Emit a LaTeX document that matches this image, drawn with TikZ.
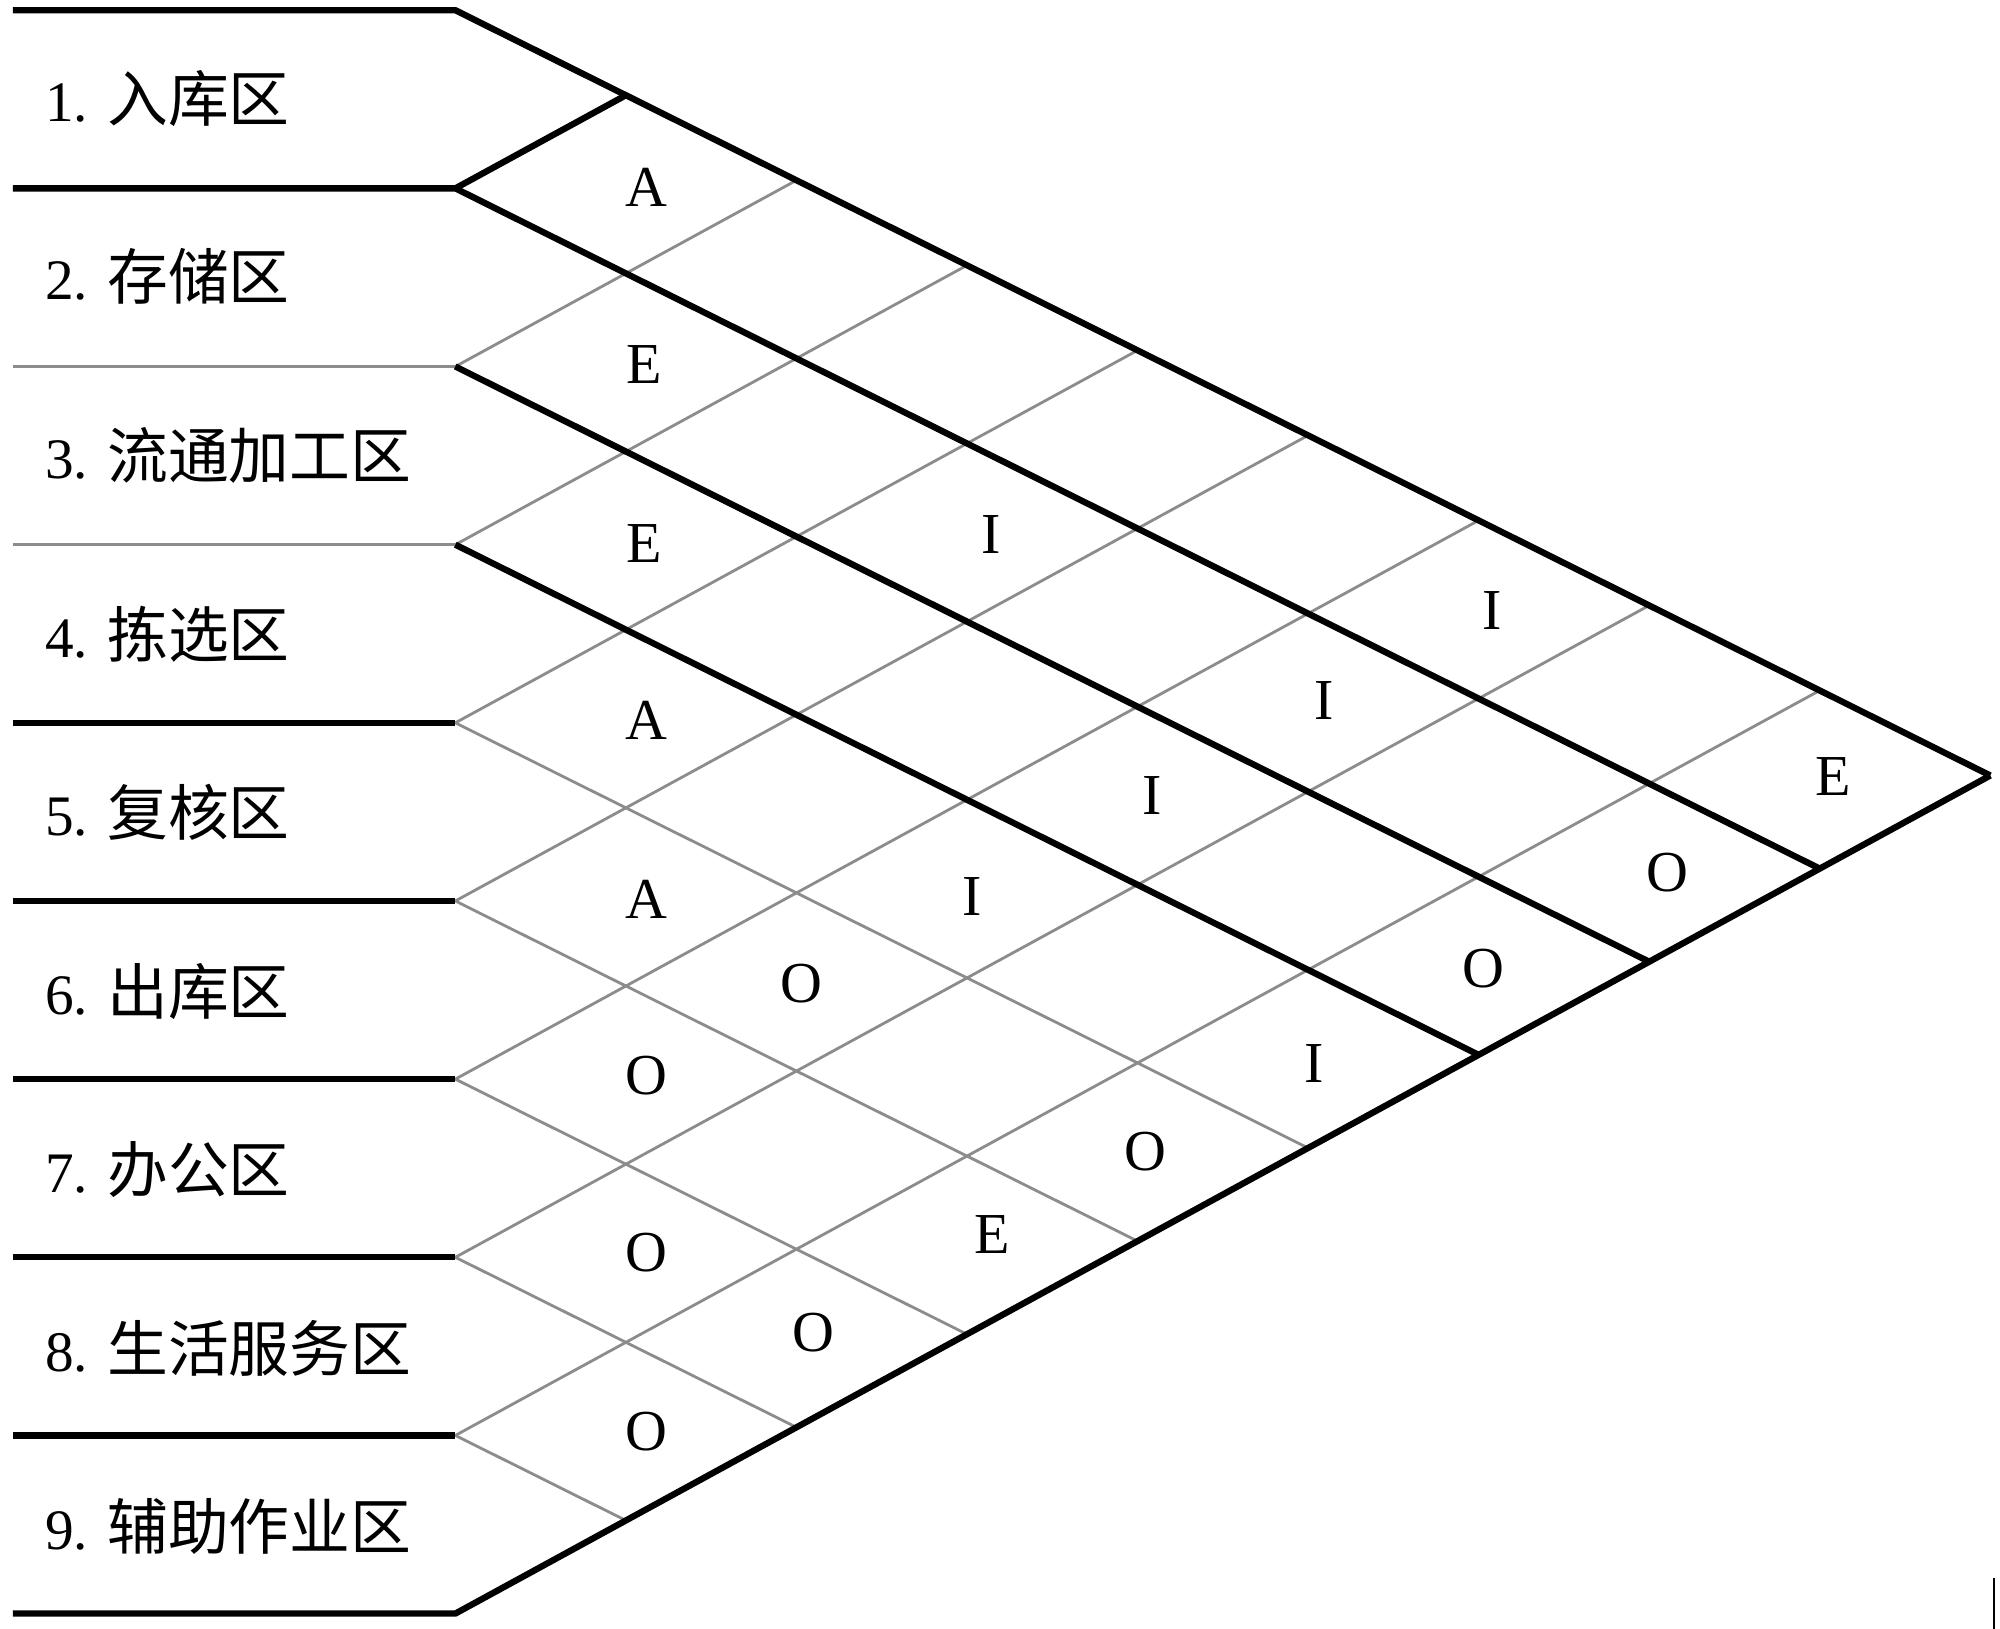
\documentclass[tikz,border=0pt]{standalone}
\usepackage{fontspec}
\setmainfont{Liberation Serif}
\newfontfamily\cjk{Noto Sans CJK SC}
\begin{document}
\begin{tikzpicture}[x=0.012755cm,y=-0.012755cm,
  heavy/.style={line width=1.8pt,black,line join=round},
  light/.style={line width=0.8pt,black!45},
  rowlab/.style={anchor=west,inner sep=0pt,font=\fontsize{16.3}{18}\selectfont},
  rel/.style={inner sep=0pt,font=\fontsize{16.5}{18}\selectfont}]
\useasboundingbox (0,0) rectangle (1568,1277);
% row boundary points
\foreach \k in {0,...,9} {
  \coordinate (L\k) at (10,{8+139.67*\k});
  \coordinate (P\k) at (357,{8+139.67*\k});
}
% ends of down-going lines on the lower edge
\foreach \k in {0,...,8} {
  \pgfmathsetmacro\xp{(139.67*(9-\k))/1.0446}
  \coordinate (D\k) at ({357+\xp},{8+139.67*\k+0.4986*\xp});
}
% ends of up-going lines on the upper edge
\foreach \k in {1,...,9} {
  \pgfmathsetmacro\xp{(139.67*\k)/1.0446}
  \coordinate (U\k) at ({357+\xp},{8+139.67*\k-0.546*\xp});
}
% thin grey lines
\draw[light] (L2) -- (P2);
\draw[light] (L3) -- (P3);
\foreach \k in {2,...,8} { \draw[light] (P\k) -- (U\k); }
\foreach \k in {4,...,8} { \draw[light] (P\k) -- (D\k); }
% heavy lines
\draw[heavy] (L0) -- (P0) -- (D0);
\draw[heavy] (L9) -- (P9) -- (U9);
\draw[heavy] (L1) -- (P1) -- (D1);
\draw[heavy] (P1) -- (U1);
\draw[heavy] (P2) -- (D2);
\draw[heavy] (P3) -- (D3);
\foreach \k in {4,...,8} { \draw[heavy] (L\k) -- (P\k); }
% small mark at the lower right
\coordinate (m1) at (1563,1237);
\coordinate (m2) at (1563,1277);
\draw[line width=0.6pt] (m1) -- (m2);
% row labels
\newcommand\zh[1]{{\cjk\fontsize{17.3}{18}\selectfont #1}}
\node[rowlab] (r1) at (35,77) {1. \zh{入库区}};
\node[rowlab] (r2) at (35,217) {2. \zh{存储区}};
\node[rowlab] (r3) at (35,357) {3. \zh{流通加工区}};
\node[rowlab] (r4) at (35,497) {4. \zh{拣选区}};
\node[rowlab] (r5) at (35,637) {5. \zh{复核区}};
\node[rowlab] (r6) at (35,777) {6. \zh{出库区}};
\node[rowlab] (r7) at (35,917) {7. \zh{办公区}};
\node[rowlab] (r8) at (35,1057) {8. \zh{生活服务区}};
\node[rowlab] (r9) at (35,1197) {9. \zh{辅助作业区}};
% relationship letters
\node[rel] (c12) at (507,147) {A};
\node[rel] (c23) at (505,286) {E};
\node[rel] (c34) at (505,426) {E};
\node[rel] (c45) at (507,565) {A};
\node[rel] (c56) at (507,705) {A};
\node[rel] (c67) at (507,843) {O};
\node[rel] (c78) at (507,982) {O};
\node[rel] (c89) at (507,1122) {O};
\node[rel] (c57) at (628,771) {O};
\node[rel] (c79) at (638,1045) {O};
\node[rel] (c25) at (777,419) {I};
\node[rel] (c47) at (762,703) {I};
\node[rel] (c69) at (778,968) {E};
\node[rel] (c37) at (903,624) {I};
\node[rel] (c59) at (898,903) {O};
\node[rel] (c27) at (1038,549) {I};
\node[rel] (c49) at (1030,834) {I};
\node[rel] (c17) at (1170,479) {I};
\node[rel] (c39) at (1163,759) {O};
\node[rel] (c29) at (1307,684) {O};
\node[rel] (c19) at (1437,609) {E};
\end{tikzpicture}
\end{document}
